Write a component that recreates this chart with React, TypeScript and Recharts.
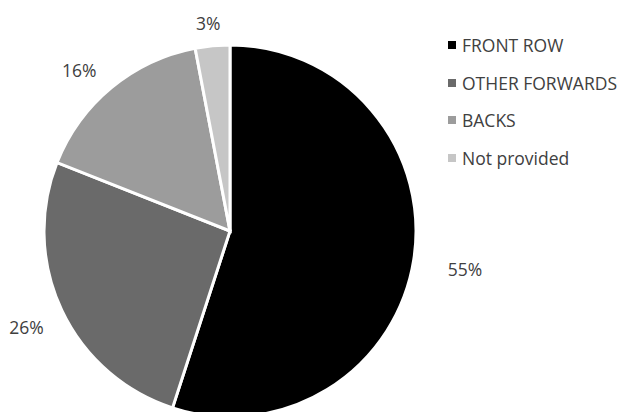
import { PieChart, Pie, Cell, Legend } from 'recharts';

const categories = ['FRONT ROW', 'OTHER FORWARDS', 'BACKS', 'Not provided'];
const shares = [55, 26, 16, 3];

const sliceColors = ['#000000', '#6a6a6a', '#9c9c9c', '#c6c6c6'];
// how far each label sits outside the rim, plus a small nudge
const labelGap = [52, 39, 35, 24];
const labelNudge = [
  [0, 1],
  [0, 0],
  [-10, 9],
  [-2, 1],
];

const data = categories.map((name, i) => ({ name, value: shares[i] }));

const RADIAN = Math.PI / 180;
const FONT = "'Open Sans', sans-serif";

function renderLabel(props: any) {
  const { cx, cy, midAngle, outerRadius, index, value } = props;
  const r = outerRadius + labelGap[index];
  const x = cx + r * Math.cos(-midAngle * RADIAN) + labelNudge[index][0];
  const y = cy + r * Math.sin(-midAngle * RADIAN) + labelNudge[index][1];
  return (
    <text
      x={x}
      y={y}
      fill="#404040"
      fontSize={17.5}
      fontFamily={FONT}
      textAnchor="middle"
      dominantBaseline="central"
    >
      {`${value}%`}
    </text>
  );
}

function renderLegend() {
  return (
    <div style={{ fontFamily: FONT, fontSize: 17.5, color: '#404040', whiteSpace: 'nowrap' }}>
      {categories.map((c, i) => (
        <div key={c} style={{ display: 'flex', alignItems: 'center', height: 37.7 }}>
          <span
            style={{
              display: 'inline-block',
              width: 8,
              height: 8,
              background: sliceColors[i],
              marginRight: 6,
            }}
          />
          <span>{c}</span>
        </div>
      ))}
    </div>
  );
}

export default function App() {
  return (
    <div style={{ position: 'fixed', top: 0, left: 0, width: 618, height: 412, background: '#fff' }}>
      <PieChart width={618} height={412} margin={{ top: 0, right: 0, bottom: 0, left: 0 }}>
        <Pie
          data={data}
          dataKey="value"
          nameKey="name"
          cx={230}
          cy={231}
          outerRadius={186}
          startAngle={90}
          endAngle={-270}
          stroke="#ffffff"
          strokeWidth={3}
          label={renderLabel}
          labelLine={false}
          isAnimationActive={false}
        >
          {data.map((d, i) => (
            <Cell key={d.name} fill={sliceColors[i]} />
          ))}
        </Pie>
        <Legend
          content={renderLegend}
          wrapperStyle={{ position: 'absolute', left: 448, top: 26, width: 170 }}
        />
      </PieChart>
    </div>
  );
}
